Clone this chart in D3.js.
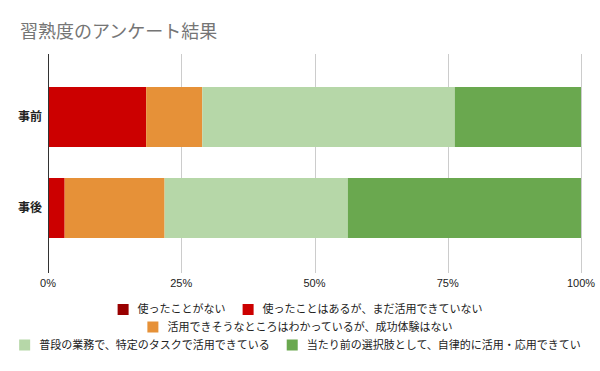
<!DOCTYPE html>
<html>
<head>
<meta charset="utf-8">
<script src="https://cdn.jsdelivr.net/npm/d3@7"></script>
<style>
  body { margin: 0; background: #fff; }
  svg { display: block; font-family: "Liberation Sans", Arial, "Noto Sans CJK JP", sans-serif; }
</style>
</head>
<body>
<div id="chart"></div>
<script>
const title = "習熟度のアンケート結果";
const groups = ["事前", "事後"];
const seriesNames = [
    "使ったことがない",
    "使ったことはあるが、まだ活用できていない",
    "活用できそうなところはわかっているが、成功体験はない",
    "普段の業務で、特定のタスクで活用できている",
    "当たり前の選択肢として、自律的に活用・応用できている"
];
const seriesColors = ["#990000", "#cc0000", "#e69138", "#b6d7a8", "#6aa84f"];
// responses per answer
const beforeCounts = [0, 7, 4, 18, 9];
const afterCounts = [0, 1, 6, 11, 14];
const xTicks = [0, 0.25, 0.5, 0.75, 1];
const legendRows = [[0, 1], [2], [3, 4]];

const width = 600;
const height = 371;
const margin = { top: 54, right: 19, bottom: 102, left: 48 };

const svg = d3.select("#chart")
    .append("svg")
    .attr("width", width)
    .attr("height", height);

svg.append("text")
    .attr("x", 20)
    .attr("y", 38)
    .attr("fill", "#757575")
    .style("font-size", "18px")
    .style("font-family", "'Noto Sans CJK JP', sans-serif")
    .text(title);

// stack data
const table = groups.map((g, i) => {
    const counts = i === 0 ? beforeCounts : afterCounts;
    const total = d3.sum(counts);
    const row = { group: g };
    counts.forEach((c, j) => row[j] = c / total);
    return row;
});
const stack = d3.stack().keys(seriesNames.map((d, i) => i));
const layers = stack(table);

const x = d3.scaleLinear()
    .domain([0, 1])
    .range([margin.left, width - margin.right]);

const y = d3.scaleBand()
    .domain(groups)
    .range([71.5, 253.5])
    .paddingInner(31 / 91)
    .paddingOuter(31 / 182);

const plotBottom = height - margin.bottom + 4;

// gridlines
svg.append("g")
    .selectAll("line")
    .data(xTicks.slice(1))
    .enter()
    .append("line")
    .attr("x1", d => Math.round(x(d)) + 0.5)
    .attr("x2", d => Math.round(x(d)) + 0.5)
    .attr("y1", margin.top)
    .attr("y2", plotBottom)
    .attr("stroke", "#cccccc")
    .attr("stroke-width", 1);

// bars
svg.append("g")
    .selectAll("g")
    .data(layers)
    .enter()
    .append("g")
    .attr("fill", d => seriesColors[d.key])
    .selectAll("rect")
    .data(d => d.map(v => ({ v, group: v.data.group })))
    .enter()
    .append("rect")
    .attr("x", d => x(d.v[0]))
    .attr("y", d => y(d.group))
    .attr("width", d => Math.max(0, x(d.v[1]) - x(d.v[0])))
    .attr("height", y.bandwidth());

// baseline
svg.append("line")
    .attr("x1", x(0) + 0.5)
    .attr("x2", x(0) + 0.5)
    .attr("y1", margin.top)
    .attr("y2", plotBottom)
    .attr("stroke", "#333333")
    .attr("stroke-width", 1);

// x tick labels
svg.append("g")
    .selectAll("text")
    .data(xTicks)
    .enter()
    .append("text")
    .attr("x", d => x(d))
    .attr("y", 287)
    .attr("text-anchor", "middle")
    .attr("fill", "#222222")
    .style("font-size", "11px")
    .text(d3.format(".0%"));

// y labels
svg.append("g")
    .selectAll("text")
    .data(groups)
    .enter()
    .append("text")
    .attr("x", 42)
    .attr("y", d => y(d) + y.bandwidth() / 2)
    .attr("dy", "0.35em")
    .attr("text-anchor", "end")
    .attr("fill", "#222222")
    .style("font-size", "12px")
    .style("font-weight", "bold")
    .style("font-family", "'Noto Sans CJK JP', sans-serif")
    .text(d => d);

// legend
const box = 11;
const boxGap = 9;
const itemGap = 17;
const legendY = [309.5, 327, 345];
const maxRowWidth = 566;
const legend = svg.append("g")
    .style("font-size", "11px")
    .style("font-family", "'Noto Sans CJK JP', sans-serif");

legendRows.forEach((row, r) => {
    const items = row.map(i => {
        const g = legend.append("g");
        g.append("rect")
            .attr("width", box)
            .attr("height", box)
            .attr("y", legendY[r] - box / 2)
            .attr("fill", seriesColors[i]);
        const t = g.append("text")
            .attr("x", box + boxGap)
            .attr("y", legendY[r])
            .attr("dy", "0.35em")
            .attr("fill", "#222222")
            .text(seriesNames[i]);
        return { g, t };
    });
    const widthOf = () => d3.sum(items, it => box + boxGap + it.t.node().getComputedTextLength()) + itemGap * (items.length - 1);
    // trim the last label when the row is wider than the chart
    const last = items[items.length - 1].t;
    let label = last.text();
    while (widthOf() > maxRowWidth && label.length > 1) {
        label = label.slice(0, -1);
        last.text(label);
    }
    let cx = width / 2 - widthOf() / 2;
    items.forEach(it => {
        it.g.attr("transform", `translate(${cx},0)`);
        cx += box + boxGap + it.t.node().getComputedTextLength() + itemGap;
    });
});
</script>
</body>
</html>
